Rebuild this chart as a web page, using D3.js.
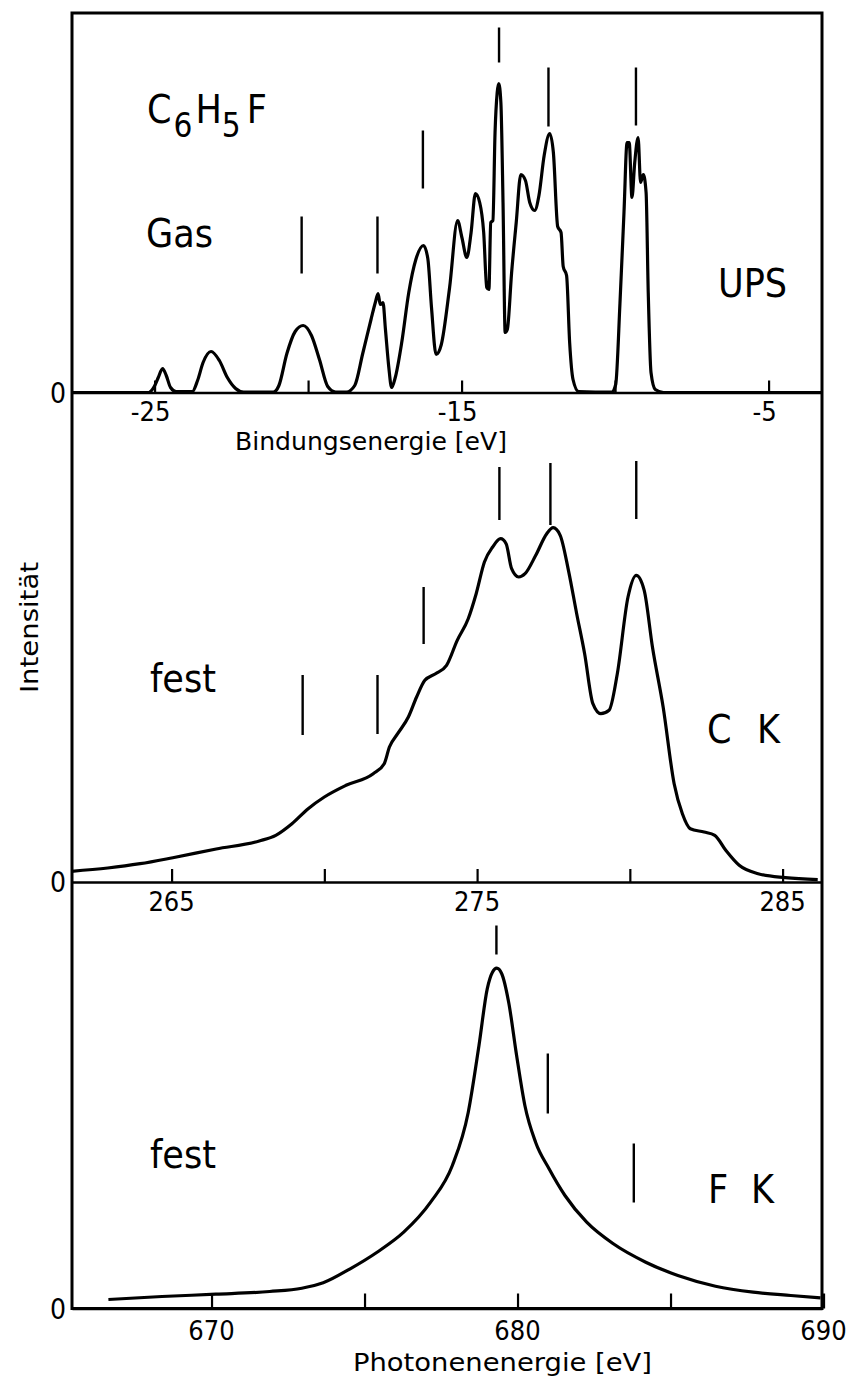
<!DOCTYPE html>
<html><head><meta charset="utf-8">
<script src="https://cdn.jsdelivr.net/npm/d3@7"></script>
<style>
body{margin:0;background:#fff}
svg{display:block}
.cond{font-family:"DejaVu Sans Condensed","DejaVu Sans",sans-serif;font-stretch:condensed}
.sans{font-family:"DejaVu Sans",sans-serif}
</style>
</head><body>
<svg id="chart" width="849" height="1379"></svg>
<script>
// ---------- DATA ----------
// UPS, gas phase: binding energy (eV) vs intensity (arb. units)
const upsEnergy = [-27.69,-25.19,-25.10,-25.01,-24.88,-24.74,-24.62,-24.48,-24.30,-23.77,-23.60,-23.42,-23.16,-22.89,-22.63,-22.36,-22.10,-21.13,-20.95,-20.69,-20.42,-20.16,-19.89,-19.63,-19.36,-19.10,-18.75,-18.48,-18.22,-17.95,-17.81,-17.72,-17.65,-17.56,-17.48,-17.37,-17.28,-17.16,-16.95,-16.72,-16.49,-16.24,-16.10,-15.98,-15.83,-15.66,-15.39,-15.13,-14.99,-14.83,-14.69,-14.55,-14.41,-14.28,-14.18,-14.11,-14.05,-13.98,-13.91,-13.84,-13.79,-13.72,-13.65,-13.58,-13.51,-13.37,-13.22,-13.07,-12.92,-12.78,-12.62,-12.48,-12.31,-12.13,-12.01,-11.87,-11.76,-11.69,-11.58,-11.48,-11.37,-11.19,-10.10,-9.98,-9.84,-9.71,-9.61,-9.54,-9.45,-9.36,-9.25,-9.17,-9.08,-8.99,-8.92,-8.83,-8.69,-8.42,-3.26];
const upsIntensity = [0,0,2,6,15,24,17,5,1,1,12,30,41,32,15,4,0.5,0.5,7,39,61,67,57,33,6,0.5,0.5,7,39,73,90,99,88,90,63,25,5,15,50,100,133,147,134,85,38,48,105,172,155,135,160,199,190,160,105,103,170,172,260,300,309,290,190,60,63,120,170,218,212,190,182,197,237,259,240,166,160,126,117,50,13,1,0.5,8,90,180,250,250,195,230,255,210,218,200,100,20,3,0,0];
const upsMarkEnergy = [-20.21,-17.74,-16.26,-13.78,-12.17,-9.32];
const upsMarkLow    = [119,119,204,330,266,267];
const upsMarkHigh   = [176,176,262,365,325,325];
const upsTicks  = [-25,-20,-15,-10,-5];
const upsLabels = [-25,-15,-5];

// C K emission, solid: photon energy (eV) vs intensity
const ckEnergy = [261.72,262.91,263.97,265.04,266.46,267.87,268.41,268.94,269.47,270.00,270.71,271.60,271.96,272.13,272.40,272.75,273.02,273.29,273.64,274.00,274.35,274.71,274.97,275.24,275.51,275.77,275.95,276.13,276.36,276.57,276.92,277.28,277.49,277.72,277.99,278.26,278.52,278.79,279.05,279.32,279.59,279.94,280.21,280.47,280.74,281.09,281.45,281.72,281.98,282.43,282.78,283.14,283.58,284.20,285.09,286.15];
const ckIntensity = [10.7,14,18.3,24.3,33,41,46.7,58.3,73.3,85,96.7,108.3,118.3,135,148.3,165,185,201.7,208.3,216.7,241.7,263.3,288.3,320,335,343.3,338.3,313.3,305,308.3,326.7,348.3,354.3,346.7,311.7,268.3,228.3,178.3,168.3,171.7,208.3,285,306.7,291.7,235,175,98.3,68.3,53.3,50,46.7,31.7,16.7,8.3,4.3,2.3];
const ckMarkEnergy = [269.29,271.74,273.25,275.73,277.40,280.21];
const ckMarkLow    = [147,148,238,362,357,363];
const ckMarkHigh   = [207,207,295,415,419,421];
const ckTicks  = [265,270,275,280,285];
const ckLabels = [265,275,285];

// F K emission, solid
const fkEnergy = [666.63,668.38,670.14,671.90,672.95,673.65,674.53,675.41,676.28,677.16,677.87,678.39,678.74,679.01,679.18,679.32,679.48,679.71,679.97,680.24,680.59,681.03,681.55,682.26,683.13,684.19,685.24,686.47,687.70,688.93,689.90];
const fkIntensity = [9,12,14.3,17,20.3,25.7,39.7,56.3,76.3,106.3,143,196.3,263,319.7,336.3,340.3,335,306.3,253,203,166.3,139.7,113,86.3,64.7,46.3,33,22.3,16.3,13,10.7];
const fkMarkEnergy = [679.31,680.99,683.80];
const fkMarkLow    = [354,195,106];
const fkMarkHigh   = [383,255,165];
const fkTicks  = [670,675,680,685,690];
const fkLabels = [670,680,690];

// ---------- LAYOUT ----------
const svg = d3.select("#chart");
const L = 72, R = 822, T = 13;
const base1 = 392.5, base2 = 882, base3 = 1308.5;

const panels = [
  {E: upsEnergy, I: upsIntensity, mE: upsMarkEnergy, mLo: upsMarkLow, mHi: upsMarkHigh,
   dom: [-27.69, -3.26], base: base1, top: T, ticks: upsTicks, labels: upsLabels, labelY: 421, tickLen: 12},
  {E: ckEnergy, I: ckIntensity, mE: ckMarkEnergy, mLo: ckMarkLow, mHi: ckMarkHigh,
   dom: [261.74, 286.29], base: base2, top: base1, ticks: ckTicks, labels: ckLabels, labelY: 911, tickLen: 13},
  {E: fkEnergy, I: fkIntensity, mE: fkMarkEnergy, mLo: fkMarkLow, mHi: fkMarkHigh,
   dom: [665.44, 689.95], base: base3, top: base2, ticks: fkTicks, labels: fkLabels, labelY: 1340, tickLen: 15}
];

panels.forEach(p => {
  const x = d3.scaleLinear().domain(p.dom).range([L, R]);
  const y = d3.scaleLinear().domain([0, p.base - p.top]).range([p.base, p.top]);

  // axis with inward ticks
  const ax = svg.append("g").attr("transform", `translate(0,${p.base})`)
    .call(d3.axisBottom(x).tickValues(p.ticks).tickSizeInner(-p.tickLen).tickSizeOuter(0).tickFormat(""));
  ax.select(".domain").attr("stroke", "#000").attr("stroke-width", 2.6);
  ax.selectAll(".tick line").attr("stroke", "#000").attr("stroke-width", 2.2);

  // tick labels
  svg.append("g").selectAll("text").data(p.labels).join("text")
    .attr("class", "cond")
    .attr("x", d => x(d) + (d < 0 ? -4 : 0))
    .attr("y", p.labelY)
    .attr("text-anchor", "middle")
    .attr("font-size", 27)
    .text(d => d < 0 ? "-" + Math.abs(d) : d);

  // zero label
  svg.append("text").attr("class", "cond")
    .attr("x", 66).attr("y", y(0) + 10)
    .attr("text-anchor", "end").attr("font-size", 28).text("0");

  // spectrum curve
  const line = d3.line().x(d => x(d[0])).y(d => y(d[1])).curve(d3.curveMonotoneX);
  svg.append("path").datum(d3.zip(p.E, p.I))
    .attr("d", line).attr("fill", "none").attr("stroke", "#000")
    .attr("stroke-width", 3.2).attr("stroke-linejoin", "round");

  // marker bars
  svg.append("g").selectAll("line").data(d3.range(p.mE.length)).join("line")
    .attr("x1", i => x(p.mE[i])).attr("x2", i => x(p.mE[i]))
    .attr("y1", i => y(p.mLo[i])).attr("y2", i => y(p.mHi[i]))
    .attr("stroke", "#000").attr("stroke-width", 2.4);
});

// frame
svg.append("rect").attr("x", L).attr("y", T).attr("width", R - L).attr("height", base3 - T)
  .attr("fill", "none").attr("stroke", "#000").attr("stroke-width", 3);

// ---------- TEXT ----------
const big = 39;
const formula = svg.append("text").attr("class", "cond").attr("x", 147).attr("y", 123).attr("font-size", big);
formula.append("tspan").text("C");
formula.append("tspan").attr("dy", 14).attr("dx", 2).attr("font-size", 33).text("6");
formula.append("tspan").attr("dy", -14).attr("dx", 3).text("H");
formula.append("tspan").attr("dy", 14).attr("dx", 0).attr("font-size", 33).text("5");
formula.append("tspan").attr("dy", -14).attr("dx", 6).text("F");

const labels = [
  {t: "Gas",  x: 146, y: 247},
  {t: "UPS",  x: 718, y: 297},
  {t: "fest", x: 150, y: 692},
  {t: "C K",  x: 707, y: 743, len: 73},
  {t: "fest", x: 150, y: 1168},
  {t: "F K",  x: 708, y: 1203, len: 66}
];
labels.forEach(l => {
  const el = svg.append("text").attr("class", "cond").attr("x", l.x).attr("y", l.y)
    .attr("font-size", big).text(l.t);
  if (l.len) el.attr("textLength", l.len).attr("lengthAdjust", "spacing");
});

svg.append("text").attr("class", "sans").attr("x", 235).attr("y", 450)
  .attr("font-size", 24).attr("textLength", 272).attr("lengthAdjust", "spacingAndGlyphs")
  .text("Bindungsenergie [eV]");
svg.append("text").attr("class", "sans").attr("x", 353).attr("y", 1371)
  .attr("font-size", 25).attr("textLength", 299).attr("lengthAdjust", "spacingAndGlyphs")
  .text("Photonenenergie [eV]");
svg.append("text").attr("class", "sans")
  .attr("transform", "translate(38,693) rotate(-90)")
  .attr("font-size", 24).attr("textLength", 131).attr("lengthAdjust", "spacingAndGlyphs")
  .text("Intensität");
</script>
</body></html>
